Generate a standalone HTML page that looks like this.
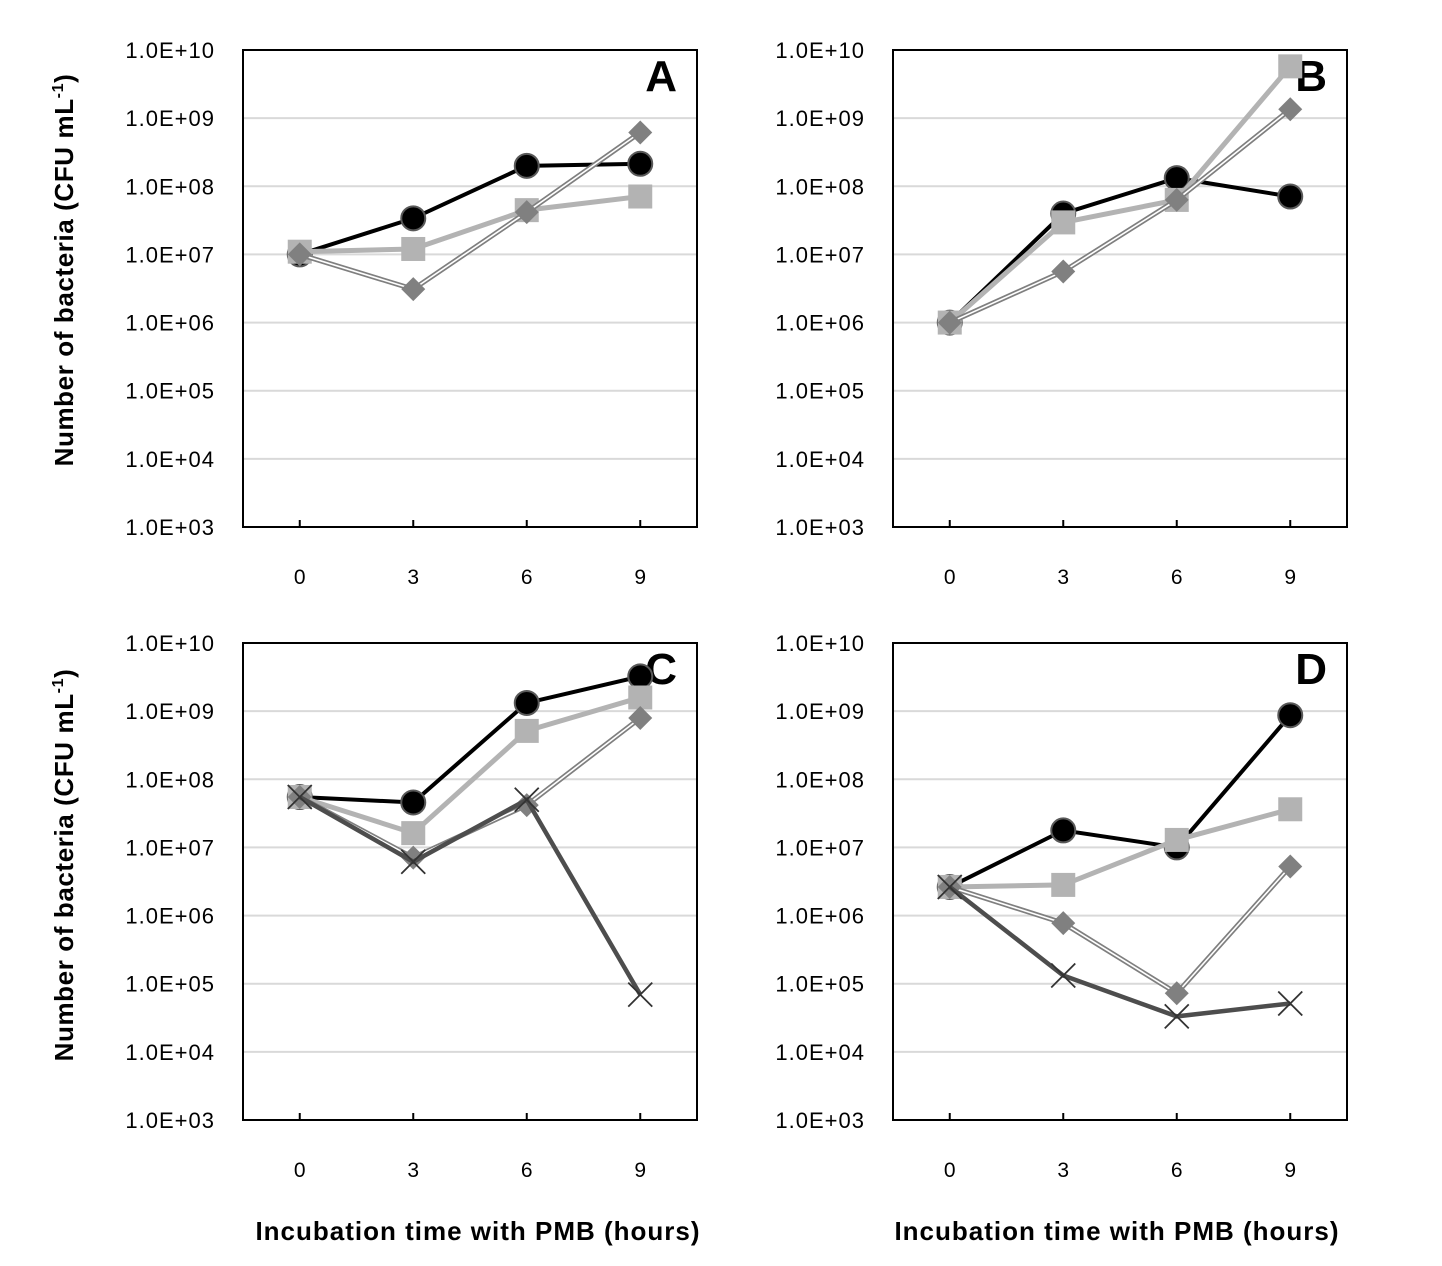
<!DOCTYPE html>
<html><head><meta charset="utf-8"><style>
body{margin:0;background:#fff;}
svg{display:block;font-family:"Liberation Sans",sans-serif;}
</style></head><body>
<svg id="chart" width="1442" height="1266" viewBox="0 0 1442 1266"></svg>
<script>
const categories=[0,3,6,9];
const tickExps=[3,4,5,6,7,8,9,10];
const panelLetters=["A","B","C","D"];
// log10 values per panel
const aCircle=[7.0,7.53,8.3,8.33];
const aSquare=[7.04,7.08,7.65,7.85];
const aDiamond=[7.0,6.49,7.62,8.79];
const bCircle=[6.0,7.6,8.12,7.85];
const bSquare=[6.0,7.47,7.8,9.76];
const bDiamond=[6.0,6.75,7.8,9.13];
const cCircle=[7.74,7.66,9.12,9.51];
const cSquare=[7.74,7.21,8.71,9.2];
const cDiamond=[7.74,6.85,7.62,8.9];
const cCross=[7.74,6.79,7.7,4.84];
const dCircle=[6.42,7.25,7.0,8.94];
const dSquare=[6.42,6.45,7.11,7.56];
const dDiamond=[6.42,5.89,4.86,6.72];
const dCross=[6.42,5.12,4.52,4.71];

const panels=[
 {x0:243,y0:50,s:{circle:aCircle,square:aSquare,diamond:aDiamond}},
 {x0:893,y0:50,s:{circle:bCircle,square:bSquare,diamond:bDiamond}},
 {x0:243,y0:643,s:{circle:cCircle,square:cSquare,diamond:cDiamond,cross:cCross}},
 {x0:893,y0:643,s:{circle:dCircle,square:dSquare,diamond:dDiamond,cross:dCross}}
];
const W=454,H=477;
const svg=document.getElementById('chart');
const NS='http://www.w3.org/2000/svg';
function mk(tag,attrs,parent){const e=document.createElementNS(NS,tag);for(const k in attrs)e.setAttribute(k,attrs[k]);(parent||svg).appendChild(e);return e;}

panels.forEach((p,i)=>{
 const g=mk('g',{});
 
 
 const xs=c=>p.x0+(categories.indexOf(c)+0.5)*W/categories.length;
 const ys=v=>p.y0+H-(v-3)/7*H;
 tickExps.forEach(e=>{
  const y=ys(e);
  if(e>3){const l=mk('line',{x1:p.x0,x2:p.x0+W,y1:y,y2:y,stroke:'#d9d9d9','stroke-width':2},g);
   }
  const t=mk('text',{x:p.x0-28,y:y+8,'text-anchor':'end','font-size':22,'letter-spacing':1,fill:'#000'},g);
  t.textContent='1.0E+'+(e<10?'0'+e:e);
  
 });
 const fr=mk('rect',{x:p.x0,y:p.y0,width:W,height:H,fill:'none',stroke:'#000','stroke-width':2},g);
 
 categories.forEach(c=>{
  const tx=xs(c);
  const tk=mk('line',{x1:tx,x2:tx,y1:p.y0+H,y2:p.y0+H-7,stroke:'#000','stroke-width':2},g);
  
 });
 categories.forEach(c=>{
  const t=mk('text',{x:xs(c),y:p.y0+H+57,'text-anchor':'middle','font-size':21},g);
  t.textContent=c;
  
 });
 const L=mk('text',{x:p.x0+W-20,y:p.y0+41,'text-anchor':'end','font-size':44,'font-weight':'bold'},g);
 L.textContent=panelLetters[i];
 
 const order=['circle','square','diamond','cross'];
 order.forEach(k=>{
  const vals=p.s[k];if(!vals)return;
  const pts=vals.map((v,j)=>[xs(categories[j]),ys(v)]);
  const d=pts.map((q,j)=>(j?'L':'M')+q[0]+' '+q[1]).join(' ');
  const sg=mk('g',{},g);
  
  if(k==='circle')mk('path',{d,stroke:'#000','stroke-width':4,fill:'none'},sg);
  if(k==='square')mk('path',{d,stroke:'#b3b3b3','stroke-width':5,fill:'none'},sg);
  if(k==='diamond'){mk('path',{d,stroke:'#7f7f7f','stroke-width':5,fill:'none'},sg);mk('path',{d,stroke:'#fff','stroke-width':1.6,fill:'none'},sg);}
  if(k==='cross')mk('path',{d,stroke:'#4d4d4d','stroke-width':4.5,fill:'none'},sg);
  pts.forEach(q=>{
   let m;
   if(k==='circle')m=mk('circle',{cx:q[0],cy:q[1],r:12,fill:'#000',stroke:'#595959','stroke-width':2},sg);
   if(k==='square')m=mk('rect',{x:q[0]-12,y:q[1]-12,width:24,height:24,fill:'#b3b3b3'},sg);
   if(k==='diamond')m=mk('path',{d:`M${q[0]} ${q[1]-12}L${q[0]+12} ${q[1]}L${q[0]} ${q[1]+12}L${q[0]-12} ${q[1]}Z`,fill:'#808080'},sg);
   if(k==='cross')m=mk('path',{d:`M${q[0]-12} ${q[1]-12}L${q[0]+12} ${q[1]+12}M${q[0]+12} ${q[1]-12}L${q[0]-12} ${q[1]+12}`,stroke:'#333','stroke-width':1.8},sg);
   
  });
 });
});
[478,1117].forEach(x=>{
 const t=mk('text',{x:x,y:1240,'text-anchor':'middle','font-size':26,'letter-spacing':1,'font-weight':'bold'});
 t.textContent='Incubation time with PMB (hours)';
 
});
[270,865].forEach(y=>{
 const t=mk('text',{x:0,y:0,transform:`translate(73 ${y}) rotate(-90)`,'text-anchor':'middle','font-size':26,'letter-spacing':0.6,'font-weight':'bold'});
 t.innerHTML='Number of bacteria (CFU mL<tspan dy="-10" font-size="16">-1</tspan><tspan dy="10">)</tspan>';
 
});
</script>
</body></html>
